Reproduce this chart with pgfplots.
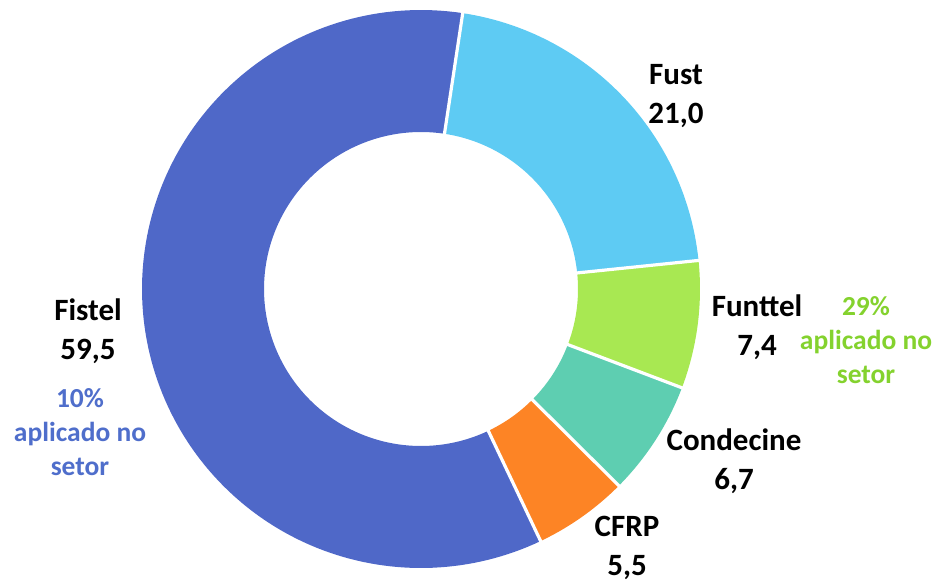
\documentclass[border=0pt]{standalone}
\usepackage{fontspec}
\setmainfont{Carlito}
\usepackage{pgfplots}
\pgfplotsset{compat=1.18}
\usepgfplotslibrary{fillbetween}

\definecolor{cFistel}{HTML}{4F68C8}
\definecolor{cFust}{HTML}{5ECBF3}
\definecolor{cFunttel}{HTML}{A8E852}
\definecolor{cCondecine}{HTML}{5ECEB1}
\definecolor{cCFRP}{HTML}{FD8425}
\definecolor{tGreen}{HTML}{84D22E}
\definecolor{tBlue}{HTML}{4F6ECB}

% values
\def\vFust{21.0}
\def\vFunttel{7.4}
\def\vCondecine{6.7}
\def\vCFRP{5.5}
\def\vFistel{59.5}

% geometry (pixels)
\def\cx{421}\def\cy{293}\def\Ro{279}\def\Ri{157}

\pgfmathsetmacro\total{\vFust+\vFunttel+\vCondecine+\vCFRP+\vFistel}
\pgfmathsetmacro\k{360/\total}
\pgfmathsetmacro\aA{81.4}
\pgfmathsetmacro\aB{\aA-\vFust*\k}
\pgfmathsetmacro\aC{\aB-\vFunttel*\k}
\pgfmathsetmacro\aD{\aC-\vCondecine*\k}
\pgfmathsetmacro\aE{\aD-\vCFRP*\k}
\pgfmathsetmacro\aF{\aE-\vFistel*\k}

\newcommand\sector[5]{%
  \addplot[draw=none, name path=o#1, domain=#2:#3, samples=#5, variable=\t]
    ({\cx+\Ro*cos(t)},{\cy+\Ro*sin(t)});
  \addplot[draw=none, name path=i#1, domain=#2:#3, samples=#5, variable=\t]
    ({\cx+\Ri*cos(t)},{\cy+\Ri*sin(t)});
  \addplot[fill=#4, draw=none] fill between[of=o#1 and i#1];
}
\newcommand\sep[1]{%
  \addplot[white, line width=3.2pt, domain=150:290, samples=2, variable=\r]
    ({\cx+r*cos(#1)},{\cy+r*sin(#1)});
}

\tikzset{lab/.style={align=center, font=\fontsize{31}{39}\selectfont\bfseries, text=black},
         note/.style={align=center, font=\fontsize{27.5}{34}\selectfont\bfseries}}

\begin{document}
\begin{tikzpicture}
\begin{axis}[at={(0,0)}, anchor=south west, scale only axis,
  width=939pt, height=582pt, xmin=0, xmax=939, ymin=0, ymax=582,
  hide axis, clip=false]
\sector{Fust}{\aB}{\aA}{cFust}{60}
\sector{Funttel}{\aC}{\aB}{cFunttel}{30}
\sector{Condecine}{\aD}{\aC}{cCondecine}{30}
\sector{CFRP}{\aE}{\aD}{cCFRP}{30}
\sector{Fistel}{\aF}{\aE}{cFistel}{150}
\sep{\aA}\sep{\aB}\sep{\aC}\sep{\aD}\sep{\aE}

\node[lab] at (axis cs:676,486) {Fust\\21,0};
\node[lab] at (axis cs:757,255) {Funttel\\7,4};
\node[lab] at (axis cs:734,121) {Condecine\\6,7};
\node[lab] at (axis cs:627,34) {CFRP\\5,5};
\node[lab] at (axis cs:88,251) {Fistel\\59,5};
\node[note, text=tGreen] at (axis cs:866,242) {29\%\\aplicado no\\setor};
\node[note, text=tBlue] at (axis cs:80,150) {10\%\\aplicado no\\setor};
\end{axis}
\pgfresetboundingbox
\path (0,0) rectangle (939pt,582pt);
\end{tikzpicture}
\end{document}
